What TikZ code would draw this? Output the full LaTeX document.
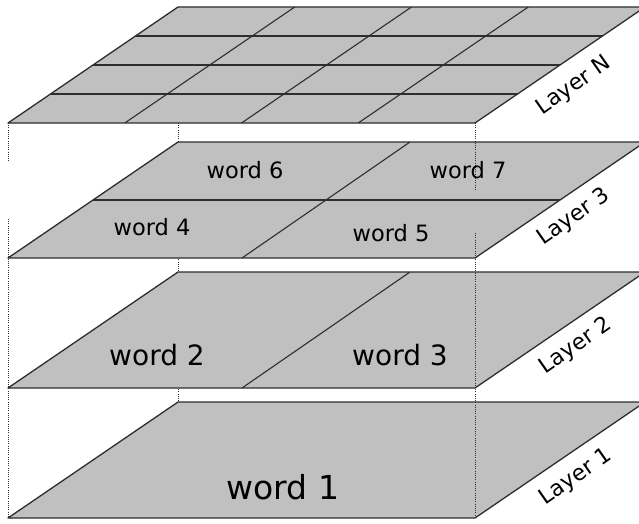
\documentclass[tikz,border=0pt]{standalone}
\usepackage{fontspec}
\setmainfont{DejaVu Sans}
\definecolor{layergray}{HTML}{C0C0C0}
\definecolor{edgegray}{HTML}{2E2E2E}
\begin{document}
\begin{tikzpicture}[x=1pt,y=-1pt,
  layer/.style={fill=layergray, draw=edgegray, line width=1.3pt, line join=round},
  gridline/.style={draw=edgegray, line width=1.1pt},
  hidden/.style={draw=black!80, line width=0.9pt, dash pattern=on 1pt off 1.2pt},
  lbl/.style={font=\fontsize{22}{22}\selectfont, rotate=35, inner sep=0pt},
  wbig/.style={font=\fontsize{33}{33}\selectfont, inner sep=0pt},
  wmid/.style={font=\fontsize{28}{28}\selectfont, inner sep=0pt},
  wsmall/.style={font=\fontsize{22.5}{22.5}\selectfont, inner sep=0pt},
  ]
\useasboundingbox (0,0) rectangle (639,524);
\clip (0,0) rectangle (639,524);

% hidden vertical line behind the layers
\coordinate (m0) at (178,123);
\coordinate (m1) at (178,518);
\draw[hidden] (m0) -- (m1);

% Layer N (bottom at y=123)
\draw[layer] (8,123) -- (475,123) -- (645,7) -- (178,7) -- cycle;
\foreach \i in {1,2,3}{
  \draw[gridline] ({8+\i*116.75},123) -- ({178+\i*116.75},7);
  \draw[gridline] ({8+\i*170/4},{123-\i*29}) -- ({475+\i*170/4},{123-\i*29});
}

% Layer 3 (bottom at y=258)
\draw[layer] (8,258) -- (475,258) -- (645,142) -- (178,142) -- cycle;
\draw[gridline] (242,258) -- (410,142);
\draw[gridline] (93,200) -- (560,200);

% Layer 2 (bottom at y=388)
\draw[layer] (8,388) -- (475,388) -- (645,272) -- (178,272) -- cycle;
\draw[gridline] (242,388) -- (410,272);

% Layer 1 (bottom at y=518)
\draw[layer] (8,518) -- (475,518) -- (645,402) -- (178,402) -- cycle;

% visible dotted lines
\coordinate (l0) at (8,123);
\coordinate (l1) at (8,162);
\coordinate (l2) at (8,219);
\coordinate (l3) at (8,518);
\draw[hidden] (l0) -- (l1);
\draw[hidden] (l2) -- (l3);
\coordinate (r0) at (475,123);
\coordinate (r1) at (475,190);
\coordinate (r2) at (475,233);
\coordinate (r3) at (475,518);
\draw[hidden] (r0) -- (r1);
\draw[hidden] (r2) -- (r3);

% words
\node[wbig]   (w1) at (283,487) {word 1};
\node[wmid]   (w2) at (157,355) {word 2};
\node[wmid]   (w3) at (400,355) {word 3};
\node[wsmall] (w4) at (152,227) {word 4};
\node[wsmall] (w5) at (391,233) {word 5};
\node[wsmall] (w6) at (245,170) {word 6};
\node[wsmall] (w7) at (468,170) {word 7};

% layer labels
\node[lbl] (ln) at (574,86)  {Layer N};
\node[lbl] (l3n) at (574,217) {Layer 3};
\node[lbl] (l2n) at (576,346) {Layer 2};
\node[lbl] (l1n) at (576,477) {Layer 1};
\end{tikzpicture}
\end{document}
